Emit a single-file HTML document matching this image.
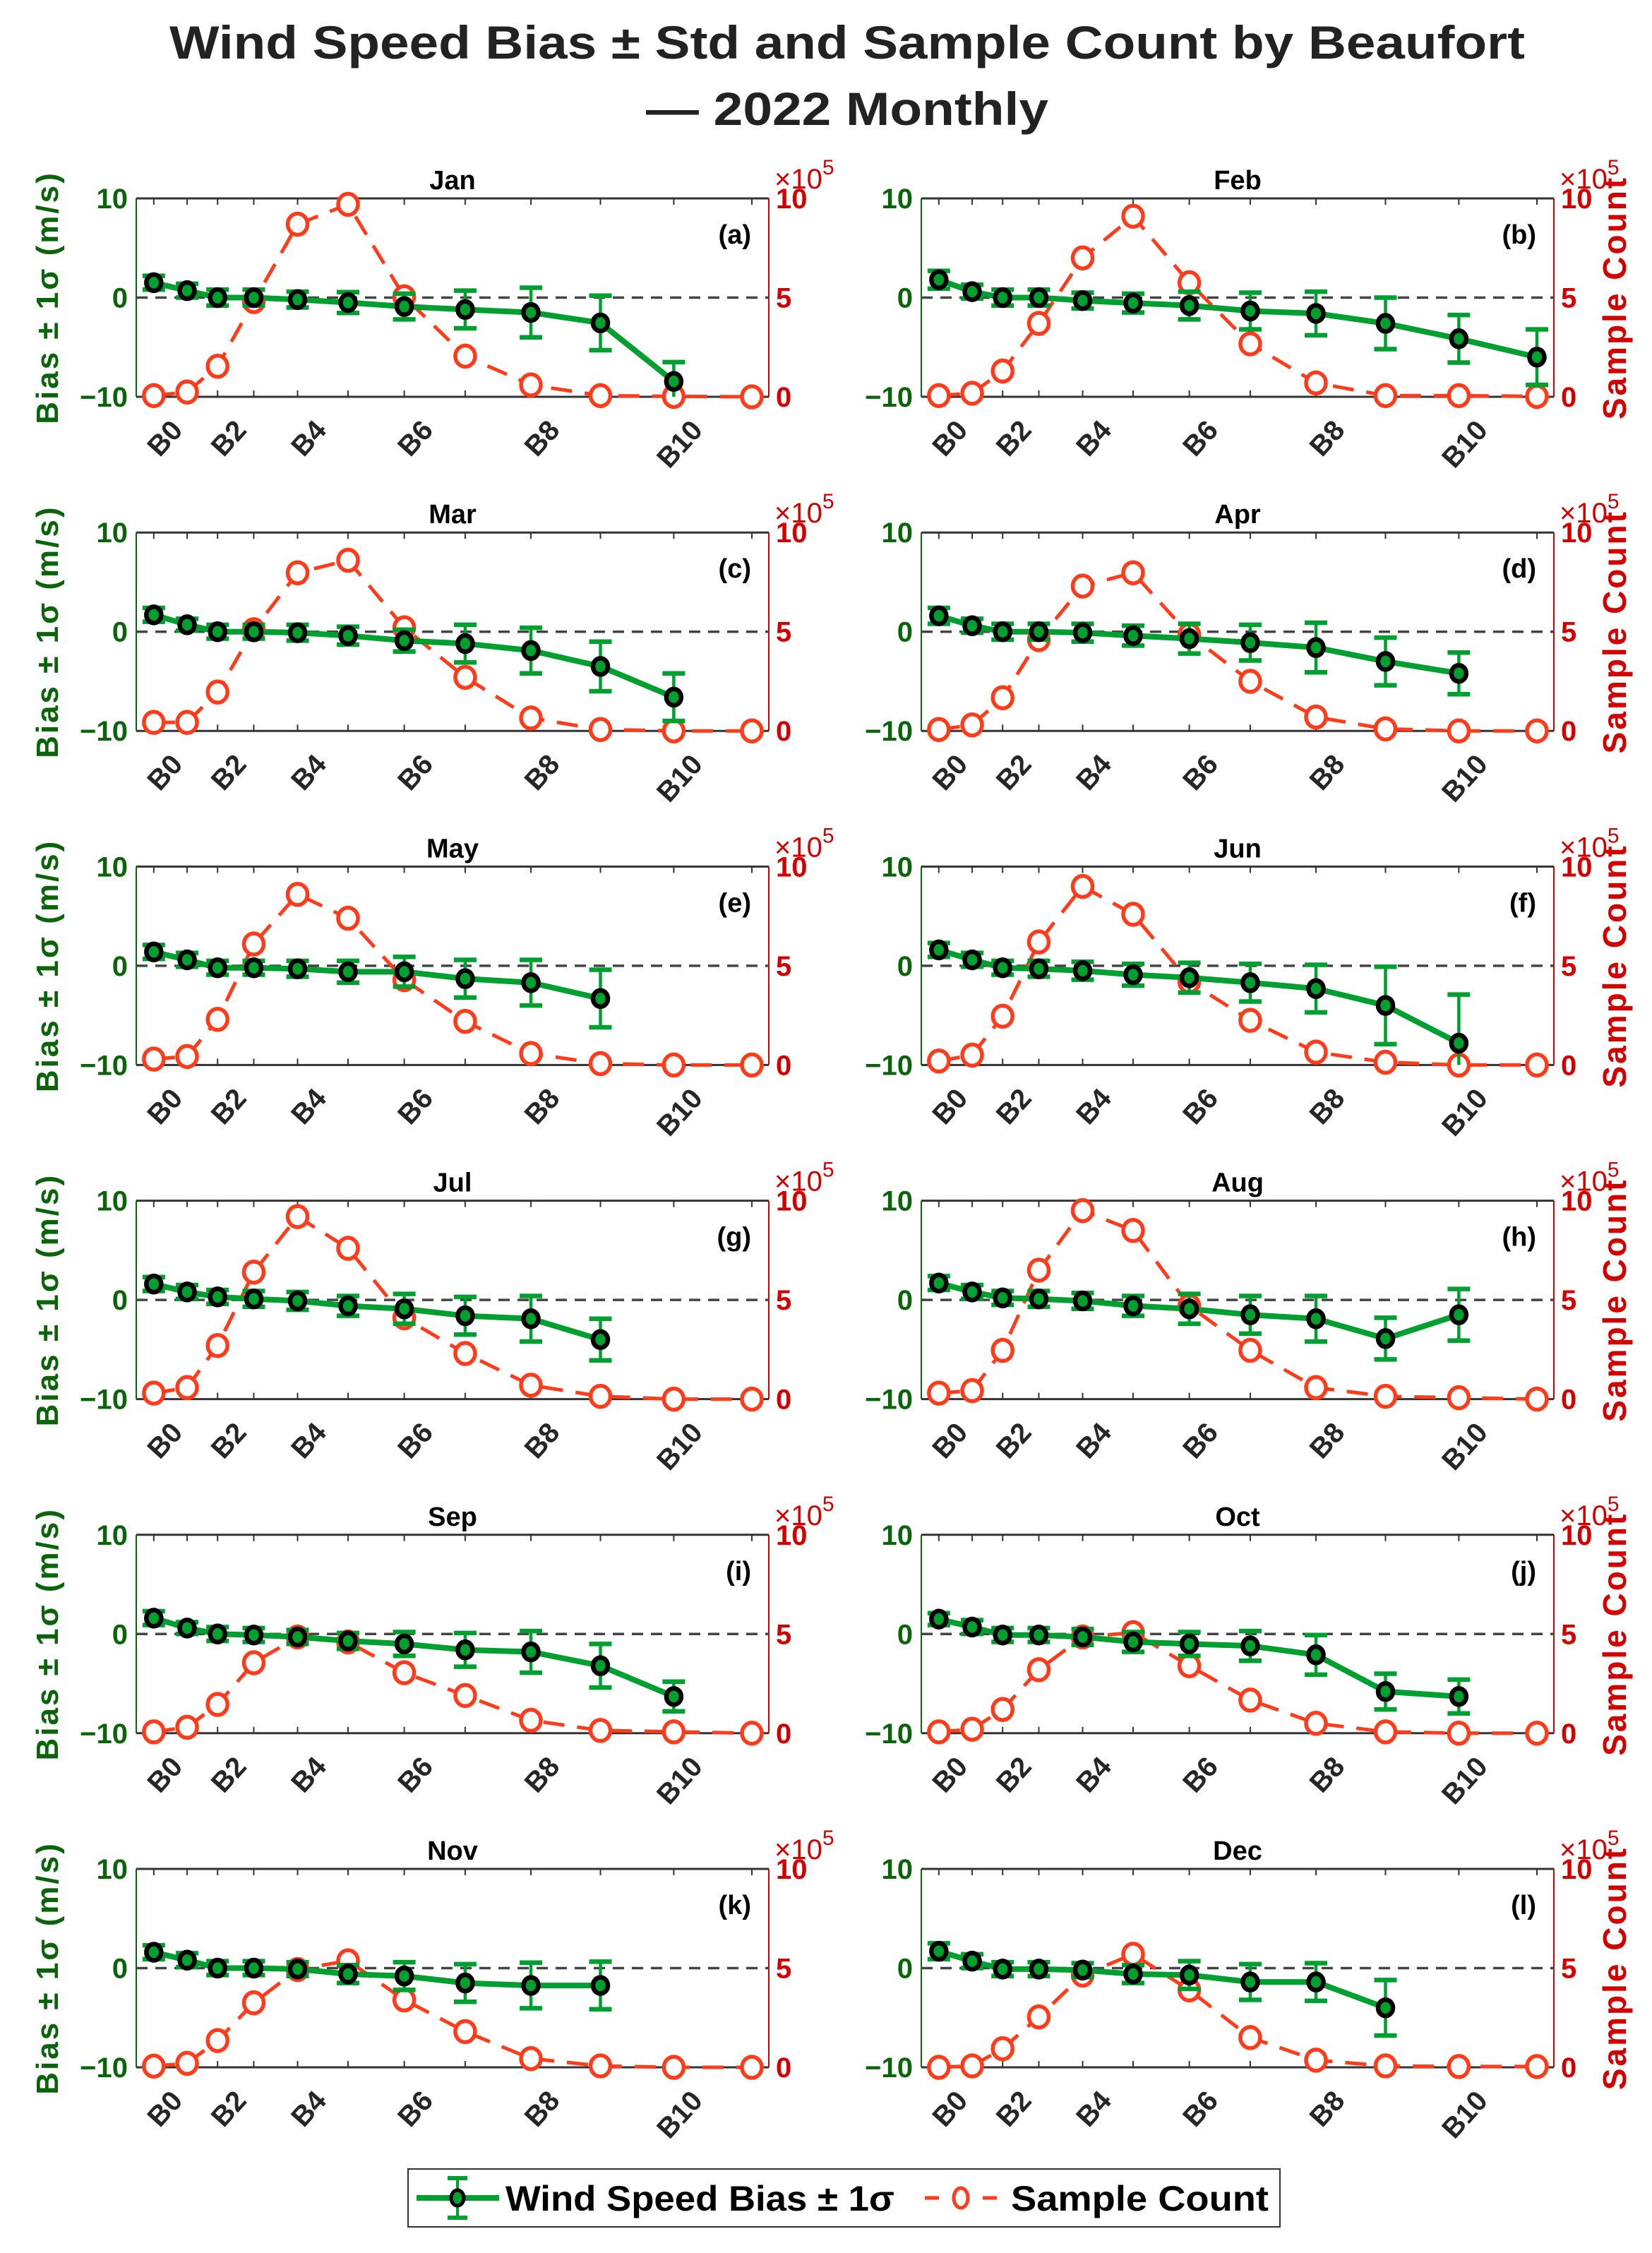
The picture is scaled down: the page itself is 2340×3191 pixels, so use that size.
<!DOCTYPE html>
<html><head><meta charset="utf-8">
<style>
html,body{margin:0;padding:0;background:#fff;}
svg{display:block;font-family:"Liberation Sans",Arial,sans-serif;}
</style></head>
<body>
<svg id="fig" width="2340" height="3191" viewBox="0 0 2340 3191" xmlns="http://www.w3.org/2000/svg">
<rect x="0" y="0" width="2340" height="3191" fill="#fff"/>
<text x="1200" y="83" text-anchor="middle" font-size="66" font-weight="bold" fill="#222" textLength="1920" lengthAdjust="spacingAndGlyphs">Wind Speed Bias ± Std and Sample Count by Beaufort</text>
<text x="1200" y="177" text-anchor="middle" font-size="66" font-weight="bold" fill="#222" textLength="570" lengthAdjust="spacingAndGlyphs">— 2022 Monthly</text>
<g id="panels"></g>
<g>
  <rect x="578" y="3072" width="1235" height="82" fill="#fff" stroke="#333" stroke-width="2"/>
  <line x1="590" y1="3113" x2="707" y2="3113" stroke="#00a030" stroke-width="8"/>
  <line x1="648" y1="3085" x2="648" y2="3141" stroke="#00a030" stroke-width="4"/>
  <line x1="634" y1="3085" x2="662" y2="3085" stroke="#00a030" stroke-width="6"/>
  <line x1="634" y1="3141" x2="662" y2="3141" stroke="#00a030" stroke-width="6"/>
  <ellipse cx="648" cy="3113" rx="9" ry="11" fill="#00a030" stroke="#000" stroke-width="5"/>
  <text x="716" y="3131" font-size="50" font-weight="bold" fill="#000" textLength="551" lengthAdjust="spacingAndGlyphs">Wind Speed Bias ± 1σ</text>
  <line x1="1310" y1="3113" x2="1330" y2="3113" stroke="#ff3b1a" stroke-width="5"/>
  <line x1="1392" y1="3113" x2="1412" y2="3113" stroke="#ff3b1a" stroke-width="5"/>
  <ellipse cx="1361" cy="3113" rx="10" ry="14" fill="#fff" stroke="#ff3b1a" stroke-width="5"/>
  <text x="1432" y="3131" font-size="50" font-weight="bold" fill="#000" textLength="365" lengthAdjust="spacingAndGlyphs">Sample Count</text>
</g>
</svg>
<script>
const months = ["Jan","Feb","Mar","Apr","May","Jun","Jul","Aug","Sep","Oct","Nov","Dec"];
const letters = ["a","b","c","d","e","f","g","h","i","j","k","l"];
const categories = ["B0","B1","B2","B3","B4","B5","B6","B7","B8","B9","B10","B11"];
const beaufortCenter = [-0.85,0.9,2.5,4.4,6.7,9.35,12.3,15.5,18.95,22.6,26.45,30.55];
const xTickLabels = ["B0","","B2","","B4","","B6","","B8","","B10",""];
const biasTicks = [-10,0,10];
const countTicks = [0,5,10];
const biasMean = [
 [1.5,0.7,0,0,-0.2,-0.5,-0.9,-1.2,-1.5,-2.55,-8.45],
 [1.8,0.6,0,0,-0.3,-0.55,-0.8,-1.35,-1.6,-2.6,-4.15,-6.0],
 [1.7,0.7,0,0,-0.1,-0.4,-0.9,-1.2,-1.9,-3.5,-6.6],
 [1.6,0.6,0,0,-0.1,-0.4,-0.7,-1.1,-1.6,-3.0,-4.2],
 [1.4,0.6,-0.2,-0.2,-0.3,-0.6,-0.6,-1.3,-1.7,-3.3],
 [1.6,0.6,-0.2,-0.3,-0.5,-0.9,-1.2,-1.7,-2.3,-4.0,-7.8],
 [1.6,0.8,0.3,0.1,-0.1,-0.6,-0.9,-1.6,-1.9,-4.0],
 [1.7,0.8,0.2,0.1,-0.1,-0.6,-0.9,-1.5,-1.9,-3.9,-1.5],
 [1.6,0.6,0,-0.1,-0.3,-0.7,-1.0,-1.6,-1.8,-3.2,-6.3],
 [1.5,0.7,-0.1,-0.1,-0.3,-0.8,-1.0,-1.2,-2.1,-5.8,-6.3],
 [1.6,0.8,0,0,-0.1,-0.6,-0.8,-1.5,-1.75,-1.75],
 [1.7,0.7,-0.1,-0.1,-0.2,-0.6,-0.7,-1.4,-1.4,-4.0]
];
const biasStd = [
 [0.7,0.7,0.8,0.8,0.8,1.05,1.3,1.9,2.5,2.75,1.95],
 [0.9,0.7,0.8,0.8,0.8,0.95,1.4,1.85,2.2,2.6,2.4,2.8],
 [0.7,0.6,0.7,0.7,0.8,0.9,1.1,1.9,2.3,2.5,2.4],
 [0.8,0.7,0.8,0.8,0.9,1.0,1.5,1.8,2.5,2.4,2.1],
 [0.7,0.7,0.7,0.7,0.8,1.1,1.5,1.9,2.3,2.9],
 [0.7,0.7,0.7,0.8,0.9,1.1,1.5,1.9,2.4,3.9,4.9],
 [0.7,0.7,0.7,0.8,0.9,1.0,1.5,1.9,2.3,2.1],
 [0.7,0.7,0.7,0.8,0.8,1.0,1.5,1.9,2.3,2.1,2.6],
 [0.7,0.6,0.7,0.7,0.7,0.8,1.2,1.7,2.1,2.2,1.5],
 [0.6,0.7,0.7,0.7,0.8,1.0,1.2,1.5,2.0,1.8,1.7],
 [0.7,0.7,0.7,0.7,0.7,0.9,1.4,1.9,2.3,2.4],
 [0.8,0.7,0.7,0.7,0.7,0.9,1.4,1.8,1.9,2.8]
];
const sampleCount = [
 [0.06,0.24,1.54,4.8,8.7,9.7,5.04,2.05,0.6,0.06,0.02,0],
 [0.06,0.18,1.3,3.7,7.0,9.1,5.75,2.67,0.7,0.06,0.06,0.02],
 [0.43,0.43,1.96,5.1,7.97,8.6,5.2,2.7,0.65,0.07,0,0],
 [0.07,0.3,1.67,4.6,7.3,7.97,4.85,2.5,0.7,0.1,0,0],
 [0.3,0.43,2.3,6.1,8.6,7.4,4.3,2.2,0.58,0.07,0,0],
 [0.2,0.5,2.46,6.2,9.0,7.6,4.2,2.25,0.65,0.14,0,0],
 [0.3,0.58,2.7,6.4,9.2,7.6,4.1,2.3,0.7,0.14,0,0],
 [0.3,0.43,2.46,6.5,9.5,8.5,4.7,2.46,0.58,0.14,0.07,0],
 [0.07,0.3,1.45,3.55,4.85,4.6,3.05,1.9,0.65,0.14,0.07,0],
 [0.07,0.2,1.2,3.2,4.85,5.07,3.4,1.67,0.5,0.07,0,0],
 [0.06,0.2,1.35,3.25,4.93,5.37,3.4,1.8,0.44,0.07,0,0],
 [0,0.07,0.94,2.54,4.65,5.7,3.9,1.5,0.36,0.07,0.04,0.04]
];

const NS = "http://www.w3.org/2000/svg";
const root = document.getElementById("panels");
const GREEN = "#00a030", DKGREEN = "#0a640a", RED = "#ff3b1a", DKRED = "#d40000";
const PW = 896, PH = 281, XMIN = -1.77, XMAX = 31.44;
function mk(tag, attrs, parent) {
  const e = document.createElementNS(NS, tag);
  for (const k in attrs) e.setAttribute(k, attrs[k]);
  parent.appendChild(e);
  return e;
}
for (let m = 0; m < 12; m++) {
  const col = m % 2, row = Math.floor(m / 2);
  const L = col === 0 ? 193 : 1305;
  const T = 281 + row * 473.2;
  const R = L + PW, B = T + PH;
  const xs = v => L + (v - XMIN) / (XMAX - XMIN) * PW;
  const yb = v => T + (10 - v) / 20 * PH;
  const yc = v => B - v / 10 * PH;
  const g = mk("g", {}, root);
  
  
  const cid = "clip" + m;
  const cp = mk("clipPath", {id: cid}, g);
  mk("rect", {x: L, y: T, width: PW, height: PH}, cp);
  const tt = mk("text", {x: (L + R) / 2, y: T - 13, "text-anchor": "middle", "font-size": 38, "font-weight": "bold", fill: "#000"}, g);
  tt.textContent = months[m];
  
  
  mk("line", {x1: L, y1: T, x2: R, y2: T, stroke: "#333", "stroke-width": 3}, g);
  mk("line", {x1: L, y1: B, x2: R, y2: B, stroke: "#333", "stroke-width": 3}, g);
  mk("line", {x1: L, y1: T, x2: L, y2: B, stroke: DKGREEN, "stroke-width": 2}, g);
  mk("line", {x1: R, y1: T, x2: R, y2: B, stroke: DKRED, "stroke-width": 2}, g);
  for (let i = 0; i < categories.length; i++) {
    const x = xs(beaufortCenter[i]);
    mk("line", {x1: x, y1: T, x2: x, y2: T + 9, stroke: "#333", "stroke-width": 2}, g);
    mk("line", {x1: x, y1: B, x2: x, y2: B - 9, stroke: "#333", "stroke-width": 2}, g);
    if (xTickLabels[i]) {
      const ax = x + 22, ay = B + 30;
      const tl = mk("text", {x: ax, y: ay, "text-anchor": "end", "dominant-baseline": "hanging", "font-size": 40, "font-weight": "bold", fill: "#262626", transform: `rotate(-48 ${ax} ${ay})`}, g);
      tl.textContent = xTickLabels[i];
      
      
    }
  }
  biasTicks.forEach(v => {
    const y = yb(v);
    const t = mk("text", {x: L - 12, y: y + 14, "text-anchor": "end", "font-size": 40, "font-weight": "bold", fill: DKGREEN}, g);
    t.textContent = v < 0 ? "\u2212" + Math.abs(v) : String(v);
    
    
  });
  countTicks.forEach(v => {
    const y = yc(v);
    const t = mk("text", {x: R + 10, y: y + 14, "text-anchor": "start", "font-size": 40, "font-weight": "bold", fill: DKRED}, g);
    t.textContent = String(v);
    
    
  });
  const ex = mk("text", {x: R + 8, y: T - 14, "font-size": 40, fill: DKRED}, g);
  ex.innerHTML = '×10<tspan dy="-20" font-size="30">5</tspan>';
  
  
  mk("line", {x1: L, y1: yb(0), x2: R, y2: yb(0), stroke: "#444", "stroke-width": 3.5, "stroke-dasharray": "16 11"}, g);
  const cnt = sampleCount[m];
  const cpts = cnt.map((v, i) => xs(beaufortCenter[i]) + "," + yc(v)).join(" ");
  const cl = mk("polyline", {points: cpts, fill: "none", stroke: RED, "stroke-width": 5, "stroke-dasharray": "30 18"}, g);
  
  
  cnt.forEach((v, i) => {
    const c = mk("ellipse", {cx: xs(beaufortCenter[i]), cy: yc(v), rx: 14, ry: 15, fill: "#fff", stroke: RED, "stroke-width": 5.5}, g);
    
    
  });
  const gb = mk("g", {"clip-path": `url(#${cid})`}, g);
  const bm = biasMean[m], bs = biasStd[m];
  const bpts = bm.map((v, i) => xs(beaufortCenter[i]) + "," + yb(v)).join(" ");
  const bl = mk("polyline", {points: bpts, fill: "none", stroke: GREEN, "stroke-width": 8, "stroke-linejoin": "round"}, gb);
  
  
  bm.forEach((v, i) => {
    const x = xs(beaufortCenter[i]), y1 = yb(v + bs[i]), y2 = yb(v - bs[i]);
    const eb = mk("g", {}, gb);
    
    
    mk("line", {x1: x, y1: y1, x2: x, y2: y2, stroke: GREEN, "stroke-width": 4.5}, eb);
    mk("line", {x1: x - 16, y1: y1, x2: x + 16, y2: y1, stroke: GREEN, "stroke-width": 6.5}, eb);
    mk("line", {x1: x - 16, y1: y2, x2: x + 16, y2: y2, stroke: GREEN, "stroke-width": 6.5}, eb);
  });
  bm.forEach((v, i) => {
    const c = mk("ellipse", {cx: xs(beaufortCenter[i]), cy: yb(v), rx: 10.5, ry: 11.5, fill: GREEN, stroke: "#000", "stroke-width": 6.5}, g);
    
    
  });
  const pl = mk("text", {x: R - 25, y: T + 64, "text-anchor": "end", "font-size": 38, "font-weight": "bold", fill: "#000"}, g);
  pl.textContent = "(" + letters[m] + ")";
  
  
  if (col === 0) {
    const cy = (T + B) / 2;
    const yl = mk("text", {x: 82, y: cy, "text-anchor": "middle", "font-size": 44, "font-weight": "bold", fill: DKGREEN, transform: `rotate(-90 82 ${cy})`, "letter-spacing": "3"}, g);
    yl.textContent = "Bias ± 1σ (m/s)";
    
    
  } else {
    const cy = (T + B) / 2;
    const yl = mk("text", {x: 2303, y: cy, "text-anchor": "middle", "font-size": 46, "font-weight": "bold", fill: DKRED, transform: `rotate(-90 2303 ${cy})`, "letter-spacing": "3"}, g);
    yl.textContent = "Sample Count";
    
    
  }
}
</script>
</body></html>
